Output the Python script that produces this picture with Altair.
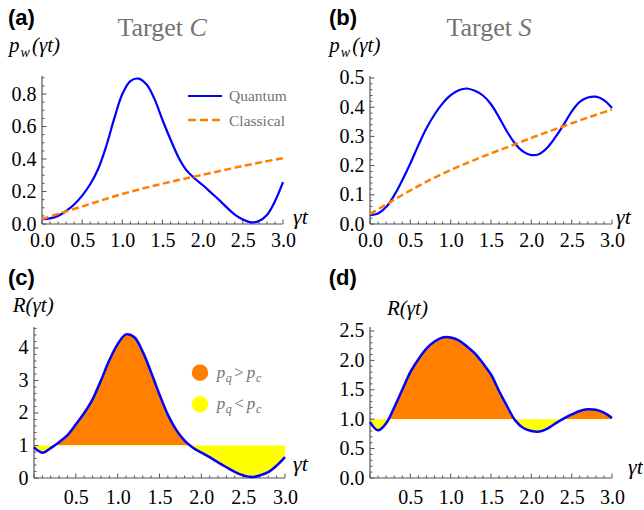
import altair as alt
import numpy as np
import pandas as pd

# ---------------- data ----------------
T = [0.0, 0.1, 0.2, 0.3, 0.4, 0.5, 0.6, 0.7, 0.8, 0.9, 1.0, 1.1, 1.2, 1.3, 1.4, 1.5,
     1.6, 1.7, 1.8, 1.9, 2.0, 2.1, 2.2, 2.3, 2.4, 2.5, 2.6, 2.7, 2.8, 2.9, 3.0]

quantum_C = [0.030, 0.035, 0.050, 0.080, 0.120, 0.175, 0.245, 0.340, 0.480, 0.650, 0.800,
             0.880, 0.895, 0.860, 0.770, 0.640, 0.520, 0.410, 0.330, 0.280, 0.240, 0.195,
             0.150, 0.102, 0.058, 0.028, 0.010, 0.018, 0.055, 0.140, 0.258]

quantum_S = [0.030, 0.036, 0.058, 0.098, 0.150, 0.207, 0.270, 0.328, 0.375, 0.413, 0.441,
             0.458, 0.464, 0.456, 0.440, 0.410, 0.365, 0.316, 0.275, 0.248, 0.236, 0.240,
             0.262, 0.298, 0.340, 0.385, 0.418, 0.433, 0.436, 0.424, 0.397]

T_cl = [0.0, 0.25, 0.5, 0.75, 1.0, 1.25, 1.5, 1.75, 2.0, 2.25, 2.5, 2.75, 3.0]
classical_C = [0.030, 0.070, 0.108, 0.147, 0.185, 0.218, 0.248, 0.276, 0.303, 0.330, 0.357, 0.382, 0.405]
classical_S = [0.034, 0.075, 0.115, 0.152, 0.185, 0.214, 0.242, 0.268, 0.295, 0.320, 0.345, 0.369, 0.392]

ratio_C = [0.94, 0.78, 0.92, 1.10, 1.32, 1.65, 2.00, 2.42, 3.00, 3.62, 4.12, 4.42, 4.33,
           3.88, 3.25, 2.57, 1.95, 1.48, 1.15, 0.93, 0.78, 0.64, 0.48, 0.33, 0.19, 0.08,
           0.03, 0.08, 0.18, 0.38, 0.64]

ratio_S = [0.95, 0.81, 0.93, 1.20, 1.50, 1.80, 2.02, 2.20, 2.32, 2.39, 2.39, 2.34, 2.24,
           2.12, 1.95, 1.76, 1.48, 1.22, 0.98, 0.85, 0.80, 0.79, 0.84, 0.93, 1.01, 1.08,
           1.14, 1.17, 1.16, 1.11, 1.02]

x_labels_top = [0.0, 0.5, 1.0, 1.5, 2.0, 2.5, 3.0]
x_labels_bottom = [0.5, 1.0, 1.5, 2.0, 2.5, 3.0]
y_labels_a = [0.0, 0.2, 0.4, 0.6, 0.8]
y_labels_b = [0.0, 0.1, 0.2, 0.3, 0.4, 0.5]
y_labels_c = [0, 1, 2, 3, 4]
y_labels_d = [0.0, 0.5, 1.0, 1.5, 2.0, 2.5]

# ---------------- styles ----------------
BLUE = "#0000ff"
ORANGE = "#ff8000"
FILL_ORANGE = "#ff8000"
YELLOW = "#ffff00"
AXIS = "#555555"
GRAY = "#737373"
SERIF = "Liberation Serif"
SANS = "Liberation Sans"
SMOOTH = "catmull-rom"


def ticks_between(top, step, majors):
    vals = np.round(np.arange(0, top + 1e-9, step), 4)
    return [float(v) for v in vals if all(abs(v - m) > 1e-6 for m in majors)]


def txt(s, x, y, size, style="normal", weight="normal", color="black",
        font=SERIF, align="left", baseline="alphabetic"):
    return alt.Chart(alt.Data(values=[{}])).mark_text(
        text=s, font=font, fontSize=size, fontStyle=style, fontWeight=weight,
        color=color, align=align, baseline=baseline
    ).encode(x=alt.value(x), y=alt.value(y))


def panel(w, h, xdom, ydom, xlab, ylab, yfmt, xpad, ymajor, yminor,
          lines, area=None, extras=()):
    xs = alt.Scale(domain=xdom, nice=False, zero=False)
    ys = alt.Scale(domain=ydom, nice=False, zero=False)
    x0 = (0 - xdom[0]) / (xdom[1] - xdom[0]) * w
    xaxis = alt.Axis(values=xlab, format=".1f", domain=False, ticks=False, tickSize=0,
                     grid=False, labelFont=SERIF, labelFontSize=20, labelColor="black",
                     labelPadding=xpad, title=None, labelOverlap=False, labelFlush=False)
    yaxis = alt.Axis(values=ylab, format=yfmt, domain=False, ticks=False, tickSize=0,
                     grid=False, labelFont=SERIF, labelFontSize=20, labelColor="black",
                     labelPadding=6, title=None, offset=-x0, labelOverlap=False,
                     labelFlush=False)

    def X(f="x"):
        return alt.X(f, type="quantitative", scale=xs, axis=xaxis)

    def Y(f="y"):
        return alt.Y(f, type="quantitative", scale=ys, axis=yaxis)

    layers = []
    if area is not None:
        r = area
        lo = min(min(r), 1.0)
        hi = max(max(r), 1.0)
        off = (hi - 1.0) / (hi - lo)
        grad = alt.LinearGradient(
            gradient="linear", x1=0, x2=0, y1=0, y2=1,
            stops=[alt.GradientStop(color=FILL_ORANGE, offset=0),
                   alt.GradientStop(color=FILL_ORANGE, offset=off),
                   alt.GradientStop(color=YELLOW, offset=off),
                   alt.GradientStop(color=YELLOW, offset=1)])
        layers.append(
            alt.Chart(pd.DataFrame({"x": T, "y": r})).transform_calculate(one="1")
            .mark_area(interpolate=SMOOTH, color=grad)
            .encode(x=X(), y=Y(), y2=alt.Y2("one:Q"))
        )

    # axis lines
    layers.append(alt.Chart(pd.DataFrame({"x": [0.0], "x2": [3.0], "y": [0.0]}))
                  .mark_rule(color=AXIS, strokeWidth=1.2)
                  .encode(x=X(), x2=alt.X2("x2:Q"), y=Y()))
    layers.append(alt.Chart(pd.DataFrame({"x": [0.0], "y": [ydom[0]], "y2": [ydom[1]]}))
                  .mark_rule(color=AXIS, strokeWidth=1.2)
                  .encode(x=X(), y=Y(), y2=alt.Y2("y2:Q")))
    # inward ticks
    xmaj = [0.0, 0.5, 1.0, 1.5, 2.0, 2.5, 3.0]
    xmin = ticks_between(3.0, 0.1, xmaj)
    for vals, ln in ((xmaj, 4.5), (xmin, 2.5)):
        layers.append(alt.Chart(pd.DataFrame({"x": vals})).mark_rule(color=AXIS, strokeWidth=1)
                      .encode(x=X(), y=alt.value(h), y2=alt.value(h - ln)))
    for vals, ln in ((ymajor, 4.5), (yminor, 2.5)):
        layers.append(alt.Chart(pd.DataFrame({"y": vals})).mark_rule(color=AXIS, strokeWidth=1)
                      .encode(y=Y(), x=alt.value(x0), x2=alt.value(x0 + ln)))

    for (xv, yv, col, dash, sw) in lines:
        m = dict(interpolate=SMOOTH, color=col, strokeWidth=sw)
        if dash:
            m["strokeDash"] = dash
        layers.append(alt.Chart(pd.DataFrame({"x": xv, "y": yv})).mark_line(**m)
                      .encode(x=X(), y=Y()))

    layers.extend(extras)
    return alt.layer(*layers).properties(width=w, height=h)


def pw_label(x, y):
    return [txt("p", x, y, 21, style="italic"),
            txt("w", x + 11.5, y + 5, 14, style="italic"),
            txt("(γt)", x + 23, y, 21, style="italic")]


def cmp_label(x, y, sym):
    return [txt("p", x, y, 17, style="italic", color=GRAY),
            txt("q", x + 9, y + 3.8, 12, style="italic", color=GRAY),
            txt(sym, x + 17.5, y, 17, color=GRAY),
            txt("p", x + 30, y, 17, style="italic", color=GRAY),
            txt("c", x + 39.3, y + 3.8, 12, style="italic", color=GRAY)]


# ---------------- panels ----------------
W1, W2 = 251, 242
H1, H2 = 148, 151
a_dom = [-8 / 80.33, 3 + 2 / 80.33]

ya_major = [0.0, 0.2, 0.4, 0.6, 0.8]
yb_major = [0.0, 0.1, 0.2, 0.3, 0.4, 0.5]
yc_major = [0.0, 1.0, 2.0, 3.0, 4.0]
yd_major = [0.0, 0.5, 1.0, 1.5, 2.0, 2.5]

extras_a = [
    txt("(a)", -26, -68, 22, weight="bold", font=SANS, baseline="top"),
    txt("Target", 149, -40, 26, color=GRAY, align="right"),
    txt("C", 155.5, -40, 26, style="italic", color=GRAY),
    *pw_label(-25, -24),
    alt.Chart(alt.Data(values=[{}])).mark_rule(color=BLUE, strokeWidth=2.2)
    .encode(x=alt.value(154), x2=alt.value(188), y=alt.value(20)),
    alt.Chart(alt.Data(values=[{}])).mark_rule(color=ORANGE, strokeWidth=2.6, strokeDash=[8, 4])
    .encode(x=alt.value(154), x2=alt.value(188), y=alt.value(44)),
    txt("Quantum", 195, 25, 15.5, color=GRAY),
    txt("Classical", 195, 49.5, 15.5, color=GRAY),
    txt("γt", 259, 148, 22, style="italic"),
]
p_a = panel(W1, H1, a_dom, [0, 0.911], x_labels_top, y_labels_a, ".1f", 6,
            ya_major, ticks_between(0.9, 0.05, ya_major),
            [(T, quantum_C, BLUE, None, 2.2), (T_cl, classical_C, ORANGE, [7, 3.5], 2.5)],
            extras=extras_a)

extras_b = [
    txt("(b)", -41, -68, 22, weight="bold", font=SANS, baseline="top"),
    txt("Target", 142, -40, 26, color=GRAY, align="right"),
    txt("S", 148.5, -40, 26, style="italic", color=GRAY),
    *pw_label(-40.7, -24),
    txt("γt", 246, 148, 22, style="italic"),
]
p_b = panel(W2, H1, [0, 3.0], [0, 0.5068], x_labels_top, y_labels_b, ".1f", 6,
            yb_major, ticks_between(0.5, 0.02, yb_major),
            [(T, quantum_S, BLUE, None, 2.2), (T_cl, classical_S, ORANGE, [7, 3.5], 2.5)],
            extras=extras_b)

extras_c = [
    txt("(c)", -26, -59, 22, weight="bold", font=SANS, baseline="top"),
    txt("R(γt)", -21.3, -15.3, 21, style="italic"),
    alt.Chart(alt.Data(values=[{}])).mark_point(filled=True, shape="circle", size=272,
                                                color=FILL_ORANGE, opacity=1)
    .encode(x=alt.value(166), y=alt.value(45.7)),
    alt.Chart(alt.Data(values=[{}])).mark_point(filled=True, shape="circle", size=272,
                                                color=YELLOW, opacity=1)
    .encode(x=alt.value(166), y=alt.value(77.3)),
    *cmp_label(182.7, 50.7, ">"),
    *cmp_label(182.7, 82.3, "<"),
    txt("γt", 259, 144, 22, style="italic"),
]
p_c = panel(W1, H2, [0, 3.0], [0, 4.646], x_labels_bottom, y_labels_c, "d", 9,
            yc_major, ticks_between(4.6, 0.2, yc_major),
            [(T, ratio_C, BLUE, None, 2.5)], area=ratio_C, extras=extras_c)

extras_d = [
    txt("(d)", -41.3, -59, 22, weight="bold", font=SANS, baseline="top"),
    txt("R(γt)", 17, -12, 21, style="italic"),
    txt("γt", 258, 147, 22, style="italic"),
]
p_d = panel(W2, H2, [0, 3.0], [0, 2.568], x_labels_bottom, y_labels_d, ".1f", 9,
            yd_major, ticks_between(2.5, 0.1, yd_major),
            [(T, ratio_S, BLUE, None, 2.5)], area=ratio_S, extras=extras_d)

chart = alt.concat(
    p_a, p_b, p_c, p_d, columns=2, bounds="flush",
    spacing={"row": 103, "column": 85},
).properties(
    padding={"left": 8, "top": 7, "right": 0, "bottom": 0}
).configure_view(stroke=None)

chart.save("out.html", embed_options={"renderer": "svg", "actions": False})
